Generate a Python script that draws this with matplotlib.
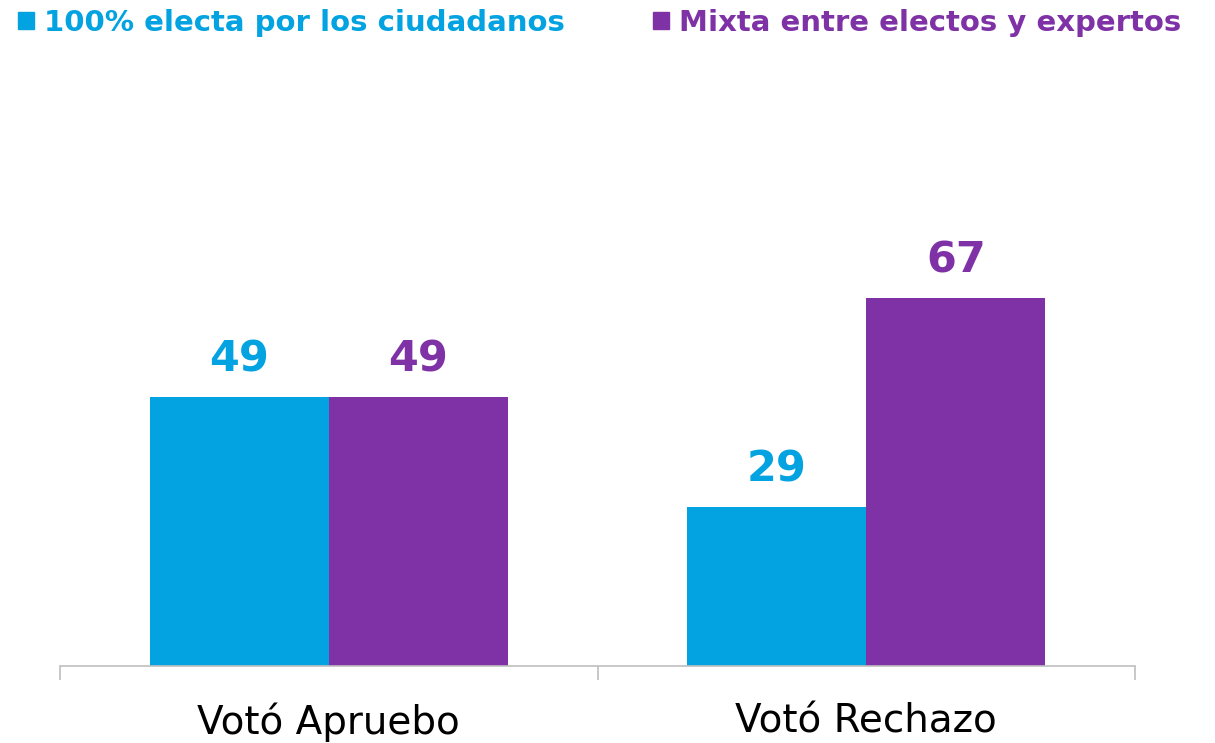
import numpy as np
import matplotlib.pyplot as plt
from matplotlib.patches import Patch

categorias = ["Votó Apruebo", "Votó Rechazo"]
series = ["100% electa por los ciudadanos", "Mixta entre electos y expertos"]
electa = [49, 29]
mixta = [49, 67]

azul = "#03A2E0"
morado = "#7F31A6"

plt.rcParams['font.family'] = ['DejaVu Sans']

fig = plt.figure(figsize=(12.15, 7.43), dpi=100)
ax = fig.add_axes([60 / 1215, 77 / 743, 1075 / 1215, 549 / 743])

x = np.arange(len(categorias))
ancho = 1 / 3
b1 = ax.bar(x - ancho / 2, electa, ancho, color=azul)
b2 = ax.bar(x + ancho / 2, mixta, ancho, color=morado)

for barras, col in [(b1, azul), (b2, morado)]:
    for b in barras:
        ax.annotate(f"{b.get_height():.0f}", (b.get_x() + b.get_width() / 2, b.get_height()),
                    xytext=(0, 12), textcoords="offset points", ha="center", va="bottom",
                    fontsize=31, fontweight="bold", color=col)

ax.set_xlim(-0.5, 1.5)
ax.set_ylim(0, 100)
ax.set_yticks([])
for s in ["top", "right", "left"]:
    ax.spines[s].set_visible(False)
ax.spines["bottom"].set_color("#BFBFBF")
ax.spines["bottom"].set_linewidth(1.2)

ax.set_xticks([-0.5, 0.5, 1.5])
ax.set_xticklabels([])
ax.tick_params(axis="x", length=10, width=1.2, color="#BFBFBF")
ax.set_xticks(x, minor=True)
ax.set_xticklabels(categorias, minor=True, fontsize=28)
ax.tick_params(axis="x", which="minor", length=0, pad=26, labelcolor="black")

handles = [Patch(color=azul), Patch(color=morado)]
leg = fig.legend(handles, series, loc="upper left", bbox_to_anchor=(0.003, 1.008), ncol=2,
                 frameon=False, handlelength=0.55, handleheight=0.55, handletextpad=0.35,
                 columnspacing=3.0, borderaxespad=0.1,
                 prop={"size": 21, "weight": "bold"})
for t, col in zip(leg.get_texts(), [azul, morado]):
    t.set_color(col)

fig.savefig("out.png", dpi=100)
